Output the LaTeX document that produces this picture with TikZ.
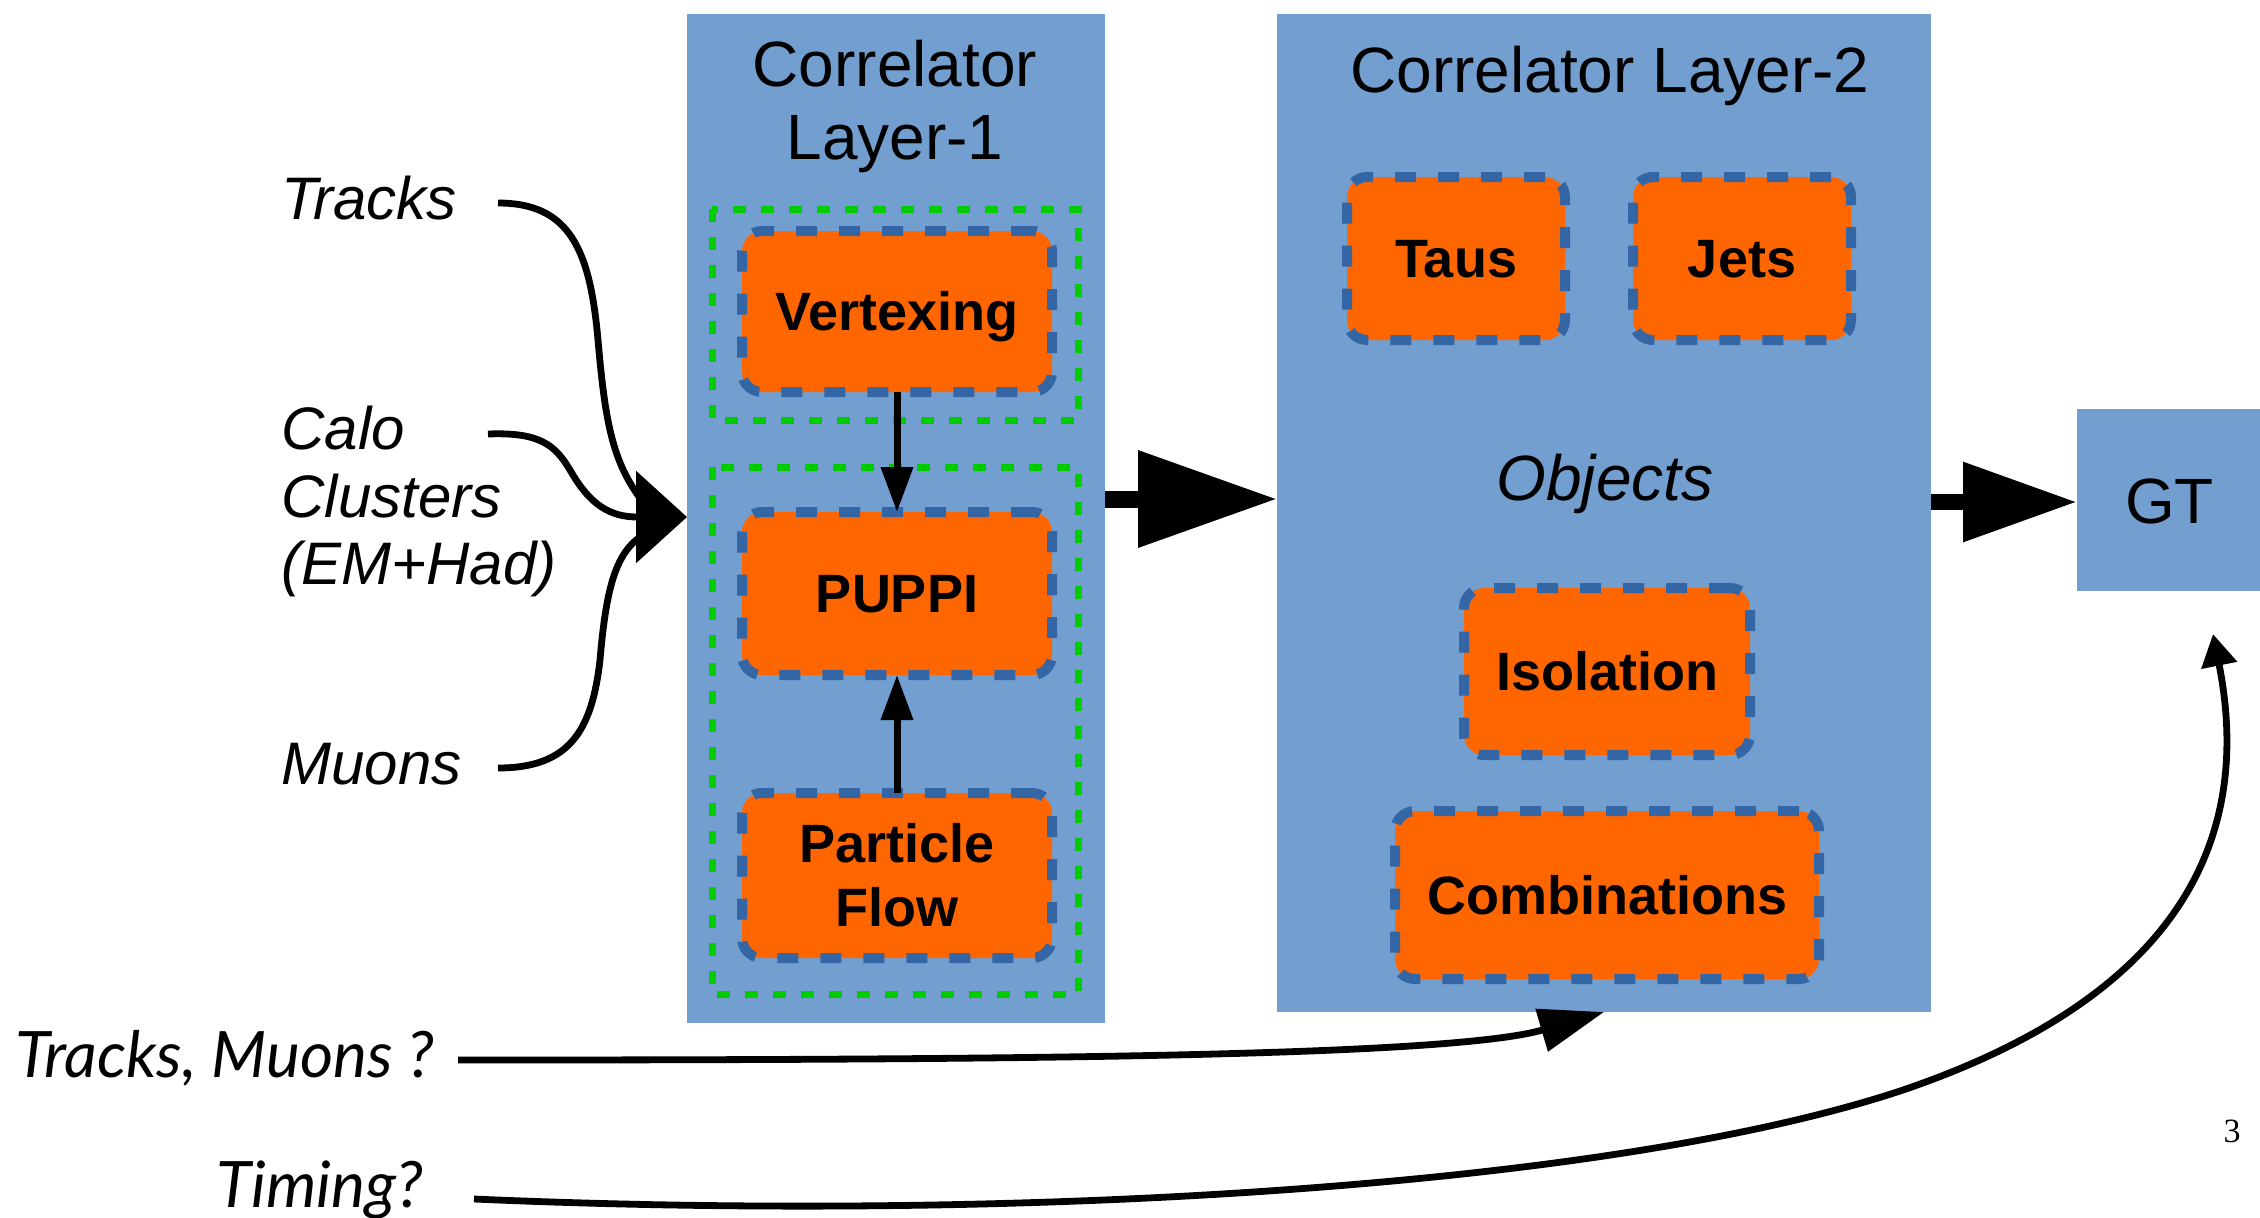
\documentclass[tikz,border=0pt]{standalone}
\usepackage{fontspec}
\setmainfont{Liberation Sans}
\newfontfamily\notefont{Lato}
\newfontfamily\pagefont{Liberation Serif}
\usetikzlibrary{arrows.meta}
\definecolor{stageblue}{HTML}{729FCF}
\definecolor{algoorange}{HTML}{FF6600}
\definecolor{algoedge}{HTML}{3465A4}
\definecolor{groupgreen}{HTML}{00CC00}
\tikzset{
  stage/.style={rectangle, fill=stageblue, inner sep=0pt, outer sep=0pt},
  algo/.style={rectangle, rounded corners=10pt, fill=algoorange, draw=algoedge,
    line width=5pt, dash pattern=on 10.5pt off 11pt, inner sep=0pt, outer sep=0pt,
    font=\fontsize{27}{32}\selectfont\bfseries, align=center},
  oneline/.style={text height=19.3pt, text depth=0pt},
  group/.style={draw=groupgreen, line width=3.5pt, dash pattern=on 6.5pt off 7.5pt},
  wire/.style={line width=3.4pt},
  inlabel/.style={inner sep=0pt, font=\fontsize{30}{33.75}\selectfont\itshape, align=left},
  notelabel/.style={inner sep=0pt, font=\notefont\fontsize{32}{36}\selectfont\itshape},
  title/.style={inner sep=0pt, font=\fontsize{32}{36.5}\selectfont, align=center},
}
\begin{document}
\begin{tikzpicture}[x=0.5pt, y=-0.5pt]
\fill[white] (0,0) rectangle (2260,1217);
\useasboundingbox (0,0) rectangle (2260,1217);

% processing stages
\node[stage, minimum width=209pt, minimum height=504.5pt] (l1) at (896,518.5) {};
\node[stage, minimum width=327pt, minimum height=499pt] (l2) at (1604,513) {};
\node[stage, minimum width=92.5pt, minimum height=91pt,
      font=\fontsize{32}{36}\selectfont, text height=23pt, text depth=0pt] (gt) at (2169.5,500) {GT};

% stage titles
\node[title] (l1title) at (895,106) {Correlator\\Layer-1};
\node[title, anchor=base] (l2title) at (1610,92) {Correlator Layer-2};
\node[title, anchor=base, font=\fontsize{32}{36}\selectfont\itshape] (objects) at (1605,500) {Objects};

% groupings inside Layer-1
\draw[group] (712,209) rectangle (1078,420);
\draw[group] (712,467) rectangle (1078,994);

% algorithm blocks
\node[algo, oneline, minimum width=155pt, minimum height=80.5pt] (vtx) at (897,311.5) {Vertexing};
\node[algo, oneline, minimum width=155pt, minimum height=81.5pt] (puppi) at (897,593.5) {PUPPI};
\node[algo, minimum width=155pt, minimum height=82.5pt] (pf) at (897,875.5) {Particle\\Flow};
\node[algo, oneline, minimum width=109pt, minimum height=81.5pt] (taus) at (1456,258.5) {Taus};
\node[algo, oneline, minimum width=109pt, minimum height=81.5pt] (jets) at (1742,258.5) {Jets};
\node[algo, oneline, minimum width=143pt, minimum height=83.5pt] (iso) at (1607,671.5) {Isolation};
\node[algo, oneline, minimum width=212pt, minimum height=84pt] (comb) at (1607,895) {Combinations};

% input labels
\node[inlabel, anchor=base west] (tracks) at (281,219) {Tracks};
\node[inlabel, anchor=north west] (calo) at (281,406) {Calo\\Clusters\\(EM+Had)};
\node[inlabel, anchor=base west] (muons) at (281,784) {Muons};
\node[notelabel, anchor=base east] (tmnote) at (435,1077) {Tracks, Muons ?};
\node[notelabel, anchor=base west] (timing) at (216,1207) {Timing?};
\node[inner sep=0pt, font=\pagefont\fontsize{17}{20}\selectfont] (pagenum) at (2232,1131) {3};

% connector end points
\coordinate (tracksout) at (498,203);
\coordinate (caloout) at (488,434);
\coordinate (muonsout) at (498,768);
\coordinate (merge) at (687,517);
\coordinate (mergetop) at (640,498);
\coordinate (mergebot) at (640,537);
\coordinate (tmout) at (458,1060);
\coordinate (timout) at (474,1199);
\coordinate (gtin) at (2213,634);
\coordinate (busA) at (0,499);
\coordinate (busB) at (0,502);

% inputs merging into Layer-1
\draw[wire] (tracksout) .. controls (570,203) and (590,250) .. (598,340)
  .. controls (605,420) and (612,460) .. (mergetop);
\draw[wire] (muonsout) .. controls (570,768) and (592,730) .. (600,660)
  .. controls (606,590) and (615,555) .. (mergebot);
\draw[wire, -{Triangle[length=25.5pt,width=45.5pt]}] (caloout)
  .. controls (540,432) and (555,445) .. (570,470)
  .. controls (590,505) and (610,517) .. (merge);

% flow inside Layer-1
\draw[line width=3.5pt, -{Triangle[length=22.5pt,width=15.5pt]}] (vtx.south) -- (puppi.north);
\draw[line width=3.5pt, -{Triangle[length=22.5pt,width=15.5pt]}] (pf.north) -- (puppi.south);

% stage to stage
\draw[line width=8.5pt, -{Triangle[length=69.5pt,width=46.5pt]}] (l1.east |- busA) -- (l2.west |- busA);
\draw[line width=8pt, -{Triangle[length=57pt,width=38pt]}] (l2.east |- busB) -- (gt.west |- busB);

% optional extra inputs
\draw[wire, -{Triangle[length=32.5pt,width=21.5pt]}] (tmout)
  .. controls (1000,1060) and (1450,1057) .. (l2.south);
\draw[wire, -{Triangle[length=16pt,width=17.5pt]}] (timout)
  .. controls (1000,1222) and (1600,1190) .. (1900,1091)
  .. controls (2200,990) and (2250,820) .. (gtin);
\end{tikzpicture}
\end{document}
